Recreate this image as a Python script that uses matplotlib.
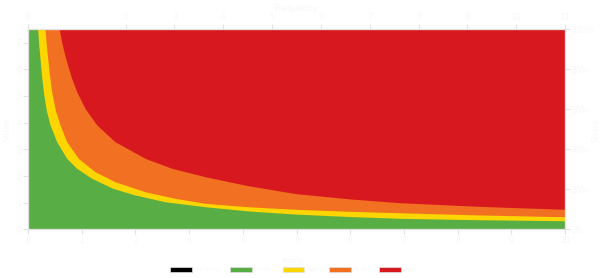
import matplotlib
matplotlib.use('Agg')
import matplotlib.pyplot as plt
from matplotlib.patches import Patch

# boundary readings (x on bottom axis 0..10, y in % of full height)
green_x = [0, 0.18, 0.20, 0.223, 0.25, 0.285, 0.34, 0.41, 0.534, 0.72, 0.907, 1.186, 1.58, 1.99, 2.55, 3.30, 4.1, 5.0, 6.0, 6.93, 8.4, 10]
green_y = [100, 100, 92.0, 85.5, 77.5, 68.8, 59.5, 52.2, 43.8, 35.5, 30.5, 25.5, 20.5, 17.2, 13.8, 11.3, 9.2, 7.6, 6.4, 5.5, 4.8, 4.3]

yellow_x = [0, 0.317, 0.338, 0.366, 0.40, 0.44, 0.51, 0.596, 0.72, 0.937, 1.248, 1.62, 2.18, 2.74, 3.30, 4.1, 5.0, 6.0, 6.93, 8.4, 10]
yellow_y = [100, 100, 93.0, 85.5, 77.0, 68.8, 59.5, 52.2, 43.8, 35.5, 28.8, 23.8, 18.8, 15.5, 13.0, 11.3, 10.0, 9.0, 8.3, 7.2, 6.3]

orange_x = [0, 0.583, 0.63, 0.70, 0.80, 0.907, 1.06, 1.28, 1.62, 2.18, 2.68, 3.30, 4.1, 5.0, 6.0, 6.93, 8.4, 10]
orange_y = [100, 100, 93.0, 85.5, 76.5, 68.8, 60.5, 52.2, 43.8, 35.5, 30.5, 26.3, 21.8, 17.8, 15.2, 13.3, 11.5, 10.0]

x_range = [0, 10]
bottom_ticks = list(range(0, 11))
top_ticks = [0, 2, 3, 4, 5, 6, 7, 8, 9, 10, 11]
left_ticks = list(range(0, 8))
right_ticks = [0, 20, 40, 60, 80, 100]

series_names = ['No data', 'Good', 'Fair', 'Poor', 'Bad']
series_colors = ['#000000', '#59ad45', '#fdd500', '#f27022', '#d7191f']

faint = '#f7f7f7'
tick_col = '#e2e2e2'

fig = plt.figure(figsize=(6, 2.78), dpi=100)
ax = fig.add_axes([0.0467, 0.175, 0.895, 0.7196])

# layered fills: red everywhere, then orange, yellow, green on top
ax.fill_between(x_range, 0, 100, color=series_colors[4], linewidth=0)
ax.fill_between(orange_x, 0, orange_y, color=series_colors[3], linewidth=0)
ax.fill_between(yellow_x, 0, yellow_y, color=series_colors[2], linewidth=0)
ax.fill_between(green_x, 0, green_y, color=series_colors[1], linewidth=0)

ax.set_xlim(0, 10)
ax.set_ylim(0, 100)
ax.set_xticks(bottom_ticks)
ax.set_xticklabels([str(t) for t in bottom_ticks])
ax.set_yticks([t * 100 / 7.5 for t in left_ticks])
ax.set_yticklabels([str(t) for t in left_ticks])
ax.set_ylabel('Value', color=faint, fontsize=6)
ax.yaxis.set_label_coords(-0.03, 0.5)
ax.tick_params(colors=tick_col, labelcolor=faint, labelsize=5.5, length=3.5, width=0.8, pad=1.5)

axr = ax.twinx()
axr.set_ylim(0, 100)
axr.set_yticks(right_ticks)
axr.set_yticklabels([f'{t}%' for t in right_ticks])
axr.set_ylabel('Share', color=faint, fontsize=6)
axr.yaxis.set_label_coords(1.05, 0.5)
axr.tick_params(colors=tick_col, labelcolor=faint, labelsize=5.5, length=3.5, width=0.8, pad=1.5)

axt = ax.twiny()
axt.set_xlim(0, 11)
axt.set_xticks(top_ticks)
axt.set_xticklabels([str(t) for t in top_ticks])
axt.set_xlabel('Frequency', color=faint, fontsize=6, labelpad=2)
axt.tick_params(colors=tick_col, labelcolor=faint, labelsize=5.5, length=3.5, width=0.8, pad=1.5)

for a in (ax, axr, axt):
    for s in a.spines.values():
        s.set_color(tick_col)
        s.set_linewidth(0.8)

handles = [Patch(facecolor=c, edgecolor='#e0e0e0', linewidth=0.5) for c in series_colors]
leg = fig.legend(handles, series_names, loc='lower center', bbox_to_anchor=(0.487, 0.0),
                 ncol=5, frameon=False, fontsize=4.5, handlelength=3.5, handleheight=0.9,
                 columnspacing=1.9, handletextpad=0.3, title='Rating', title_fontsize=5)
for t in leg.get_texts():
    t.set_color(faint)
leg.get_title().set_color(faint)

fig.savefig('out.png', dpi=100)
